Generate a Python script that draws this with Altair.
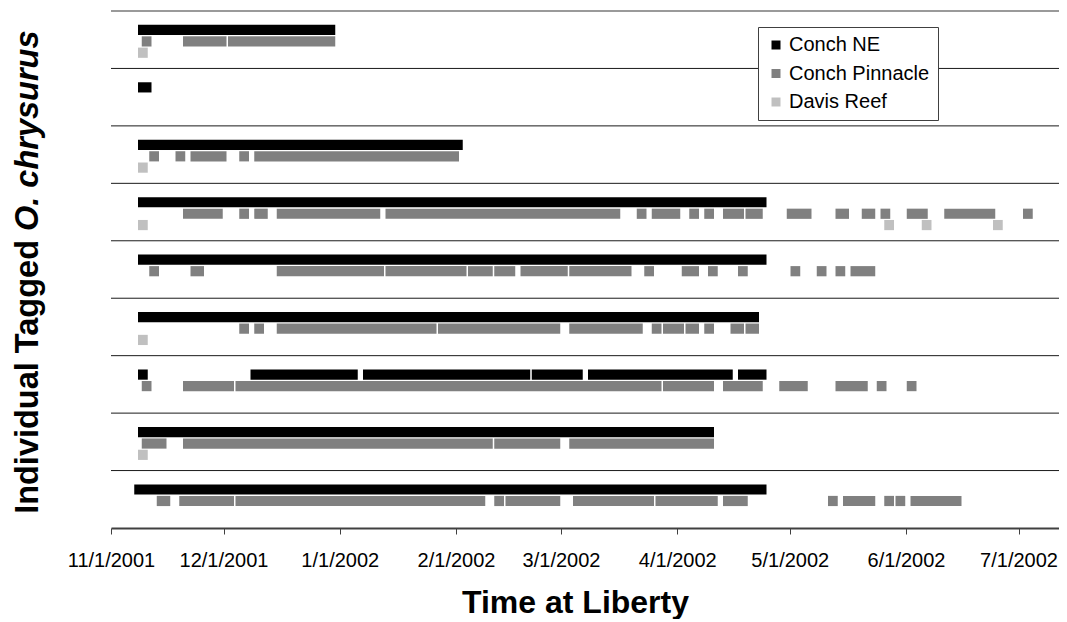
import altair as alt
import pandas as pd

# ---------------- data ----------------
ROWS = [1, 2, 3, 4, 5, 6, 7, 8, 9]
ROW_LABELS = ["1", "2", "3", "4", "5", "6", "7", "8", "9"]
SITES = ["Conch NE", "Conch Pinnacle", "Davis Reef"]
TICK_DATES = [(2001, 11), (2001, 12), (2002, 1), (2002, 2), (2002, 3),
              (2002, 4), (2002, 5), (2002, 6), (2002, 7)]

CONCH_NE = [
    (9, "2001-11-08", "2001-12-31"),
    (8, "2001-11-08", "2001-11-12"),
    (7, "2001-11-08", "2002-02-03"),
    (6, "2001-11-08", "2002-04-25"),
    (5, "2001-11-08", "2002-04-25"),
    (4, "2001-11-08", "2002-04-23"),
    (3, "2001-11-08", "2001-11-11"),
    (3, "2001-12-08", "2002-01-06"),
    (3, "2002-01-07", "2002-02-21"),
    (3, "2002-02-21", "2002-03-07"),
    (3, "2002-03-08", "2002-04-16"),
    (3, "2002-04-17", "2002-04-25"),
    (2, "2001-11-08", "2002-04-11"),
    (1, "2001-11-07", "2002-04-25"),
]

CONCH_PINNACLE = [
    (9, "2001-11-09", "2001-11-12"), (9, "2001-11-20", "2001-12-02"),
    (9, "2001-12-02", "2001-12-31"),
    (7, "2001-11-11", "2001-11-14"), (7, "2001-11-18", "2001-11-21"),
    (7, "2001-11-22", "2001-12-02"), (7, "2001-12-05", "2001-12-08"),
    (7, "2001-12-09", "2002-02-02"),
    (6, "2001-11-20", "2001-12-01"), (6, "2001-12-05", "2001-12-08"),
    (6, "2001-12-09", "2001-12-13"), (6, "2001-12-15", "2002-01-12"),
    (6, "2002-01-13", "2002-03-17"), (6, "2002-03-21", "2002-03-24"),
    (6, "2002-03-25", "2002-04-02"), (6, "2002-04-04", "2002-04-07"),
    (6, "2002-04-08", "2002-04-11"), (6, "2002-04-13", "2002-04-19"),
    (6, "2002-04-19", "2002-04-24"), (6, "2002-04-30", "2002-05-07"),
    (6, "2002-05-13", "2002-05-17"), (6, "2002-05-20", "2002-05-24"),
    (6, "2002-05-25", "2002-05-28"), (6, "2002-06-01", "2002-06-07"),
    (6, "2002-06-11", "2002-06-25"), (6, "2002-07-02", "2002-07-05"),
    (5, "2001-11-11", "2001-11-14"), (5, "2001-11-22", "2001-11-26"),
    (5, "2001-12-15", "2002-01-13"), (5, "2002-01-13", "2002-02-04"),
    (5, "2002-02-04", "2002-02-11"), (5, "2002-02-11", "2002-02-17"),
    (5, "2002-02-18", "2002-03-03"), (5, "2002-03-03", "2002-03-20"),
    (5, "2002-03-23", "2002-03-26"), (5, "2002-04-02", "2002-04-07"),
    (5, "2002-04-09", "2002-04-12"), (5, "2002-04-17", "2002-04-20"),
    (5, "2002-05-01", "2002-05-04"), (5, "2002-05-08", "2002-05-11"),
    (5, "2002-05-13", "2002-05-16"), (5, "2002-05-17", "2002-05-24"),
    (4, "2001-12-05", "2001-12-08"), (4, "2001-12-09", "2001-12-12"),
    (4, "2001-12-15", "2002-01-27"), (4, "2002-01-27", "2002-03-01"),
    (4, "2002-03-03", "2002-03-23"), (4, "2002-03-25", "2002-03-28"),
    (4, "2002-03-28", "2002-04-03"), (4, "2002-04-03", "2002-04-07"),
    (4, "2002-04-08", "2002-04-11"), (4, "2002-04-15", "2002-04-19"),
    (4, "2002-04-19", "2002-04-23"),
    (3, "2001-11-09", "2001-11-12"), (3, "2001-11-20", "2001-12-04"),
    (3, "2001-12-04", "2002-03-28"), (3, "2002-03-28", "2002-04-11"),
    (3, "2002-04-13", "2002-04-24"), (3, "2002-04-28", "2002-05-06"),
    (3, "2002-05-13", "2002-05-22"), (3, "2002-05-24", "2002-05-27"),
    (3, "2002-06-01", "2002-06-04"),
    (2, "2001-11-09", "2001-11-16"), (2, "2001-11-20", "2002-02-11"),
    (2, "2002-02-11", "2002-03-01"), (2, "2002-03-03", "2002-04-11"),
    (1, "2001-11-13", "2001-11-17"), (1, "2001-11-19", "2001-12-04"),
    (1, "2001-12-04", "2002-02-09"), (1, "2002-02-11", "2002-02-14"),
    (1, "2002-02-14", "2002-03-01"), (1, "2002-03-04", "2002-03-26"),
    (1, "2002-03-26", "2002-04-12"), (1, "2002-04-13", "2002-04-20"),
    (1, "2002-05-11", "2002-05-14"), (1, "2002-05-15", "2002-05-24"),
    (1, "2002-05-26", "2002-05-29"), (1, "2002-05-29", "2002-06-01"),
    (1, "2002-06-02", "2002-06-16"),
]

DAVIS_REEF = [
    (9, "2001-11-08", "2001-11-11"),
    (7, "2001-11-08", "2001-11-11"),
    (6, "2001-11-08", "2001-11-11"), (6, "2002-05-26", "2002-05-29"),
    (6, "2002-06-05", "2002-06-08"), (6, "2002-06-24", "2002-06-27"),
    (4, "2001-11-08", "2001-11-11"),
    (2, "2001-11-08", "2001-11-11"),
]

# ---------------- styling ----------------
COLORS = ["#000000", "#808080", "#C0C0C0"]
SITE_OFFSET = {"Conch NE": 0.1706, "Conch Pinnacle": -0.0296, "Davis Reef": -0.2263}
HALF_H = 0.0888
LABEL_POS = [0.809, 1.854, 2.898, 3.891, 4.796, 5.771, 6.789, 7.895, 9.105]
FONT = "Liberation Sans"

recs = []
for site, segs in zip(SITES, [CONCH_NE, CONCH_PINNACLE, DAVIS_REEF]):
    for row, s, e in segs:
        c = row + SITE_OFFSET[site]
        recs.append({"site": site, "row": row, "start": s, "end": e,
                     "y_lo": c - HALF_H, "y_hi": c + HALF_H})
df = pd.DataFrame(recs)
df["start"] = pd.to_datetime(df["start"])
df["end"] = pd.to_datetime(df["end"])

lines_df = pd.DataFrame({"pos": [r + 0.5 for r in ROWS[:-1]]})

x_scale = alt.Scale(domain=[alt.DateTime(year=2001, month=11, date=1),
                            alt.DateTime(year=2002, month=7, date=11, hours=19, minutes=12)],
                    nice=False)
y_scale = alt.Scale(domain=[0.5, 9.5], nice=False, zero=False)

x_axis = alt.Axis(
    values=[alt.DateTime(year=y, month=m, date=1) for y, m in TICK_DATES],
    format="%-m/%-d/%Y", title="Time at Liberty", grid=False,
    labelFlush=False, labelOverlap=False, labelFontSize=20, labelFont=FONT,
    labelColor="black", labelBaseline="alphabetic", labelPadding=32,
    tickSize=6, tickColor="#404040", tickWidth=1,
    domainColor="#404040", domainWidth=2,
    titleFont=FONT, titleFontSize=32, titleFontWeight="bold", titleColor="black",
    titleX=464, titleY=84, titleBaseline="alphabetic", titleAlign="center",
)
y_axis = alt.Axis(
    values=LABEL_POS, labelExpr="format(round(datum.value), 'd')",
    title=None, grid=False, ticks=False, tickSize=0, labelPadding=24,
    labelFontSize=20, labelFont=FONT, labelColor="black",
    labelBaseline="alphabetic", labelOverlap=False,
    domainColor="#404040", domainWidth=2,
)

lines = alt.Chart(lines_df).mark_rule(color="#1a1a1a", strokeWidth=1).encode(
    y=alt.Y("pos:Q", scale=y_scale, axis=None)
)

border = alt.Chart(pd.DataFrame({"t": [0]})).mark_rule(
    color="#9a9a9a", strokeWidth=2
).encode(y=alt.datum(9.5, scale=y_scale))

rects = alt.Chart(df).mark_rect(xOffset=0.75, x2Offset=-0.75).encode(
    x=alt.X("start:T", scale=x_scale, axis=x_axis),
    x2="end:T",
    y=alt.Y("y_lo:Q", scale=y_scale, axis=y_axis),
    y2="y_hi:Q",
    color=alt.Color(
        "site:N", scale=alt.Scale(domain=SITES, range=COLORS),
        legend=alt.Legend(
            orient="none", legendX=647, legendY=16, title=None,
            fillColor="white", strokeColor="#404040", padding=8,
            symbolType="square", symbolSize=81, symbolStrokeWidth=0,
            symbolOffset=0, labelOffset=3, rowPadding=8.5,
            labelFontSize=20, labelFont=FONT, labelColor="black", labelLimit=400,
        ),
    ),
)

title1 = alt.Chart(pd.DataFrame({"t": ["Individual Tagged"]})).mark_text(
    angle=270, align="right", baseline="alphabetic", font=FONT,
    fontSize=32.5, fontWeight="bold", color="black",
).encode(text="t:N", x=alt.value(-73), y=alt.value(229))

title2 = alt.Chart(pd.DataFrame({"t": ["O. chrysurus"]})).mark_text(
    angle=270, align="left", baseline="alphabetic", font=FONT,
    fontSize=32.5, fontWeight="bold", fontStyle="italic", color="black",
).encode(text="t:N", x=alt.value(-73), y=alt.value(220))

chart = alt.layer(lines, border, rects, title1, title2).properties(
    width=948, height=517,
    padding={"left": 103, "top": 3, "right": 0, "bottom": 91},
    autosize=alt.AutoSizeParams(type="none"),
    background="white",
).configure_view(stroke=None)

chart.save("out.html", embed_options={"renderer": "svg", "actions": False})
